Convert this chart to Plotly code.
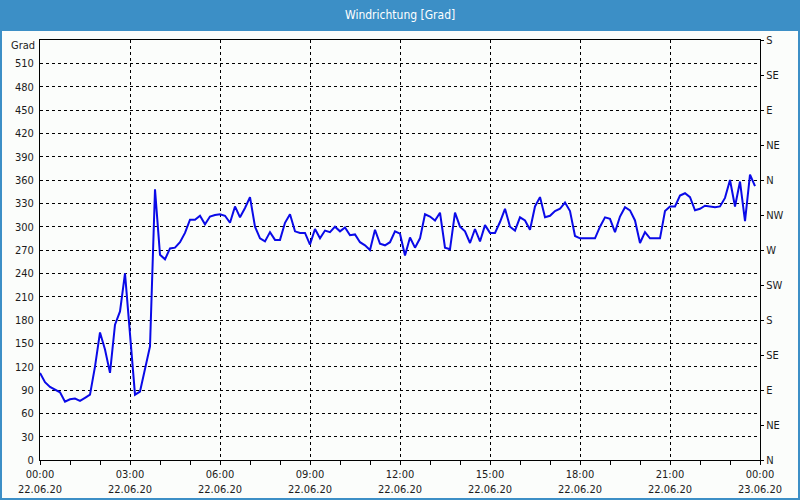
import pandas as pd
import plotly.graph_objects as go

# Wind direction in degrees, sampled every 10 minutes on 22.06.20
wind_deg = [
    112, 100, 94, 90, 87, 75, 78, 79, 76, 80, 84, 120,
    164, 142, 112, 174, 191, 240, 167, 84, 88, 115, 146, 348,
    264, 258, 272, 273, 280, 292, 309, 309, 314, 303, 313, 315,
    316, 314, 305, 326, 312, 324, 338, 300, 285, 281, 293, 283,
    283, 305, 316, 294, 292, 292, 277, 297, 285, 295, 293, 300,
    294, 299, 289, 290, 280, 276, 270, 296, 278, 276, 280, 294,
    291, 263, 286, 273, 285, 316, 313, 308, 318, 273, 271, 318,
    300, 294, 279, 297, 281, 302, 292, 292, 306, 323, 300, 295,
    312, 308, 296, 326, 338, 312, 314, 320, 323, 331, 320, 288,
    285, 285, 285, 285, 300, 312, 310, 293, 313, 325, 321, 308,
    279, 293, 285, 285, 285, 320, 326, 326, 340, 343, 338, 321,
    323, 327, 326, 325, 326, 337, 360, 326, 358, 307, 367, 352,
]
times = pd.date_range("2020-06-22 00:00", periods=len(wind_deg), freq="10min")

left_ticks = list(range(0, 511, 30))
right_ticks = list(range(0, 541, 45))
right_labels = ["N", "NE", "E", "SE", "S", "SW", "W", "NW", "N", "NE", "E", "SE", "S"]

title_text = "Windrichtung [Grad]"
unit_text = "Grad"

W, H = 800, 500
ML, MR, MT, MB = 40, 40, 40, 40
PW, PH = W - ML - MR, H - MT - MB

def px_x(x):
    return (x - ML) / PW

def px_y(y):
    return 1 - (y - MT) / PH

font_family = "Tahoma, 'DejaVu Sans Condensed', 'Liberation Sans', Arial, sans-serif"
txt = "#1c1c1c"

fig = go.Figure()
fig.add_trace(go.Scatter(
    x=times, y=wind_deg, mode="lines",
    line=dict(color="#0a0ae8", width=2),
    hoverinfo="skip", showlegend=False,
))
fig.add_trace(go.Scatter(
    x=[times[0]], y=[None], yaxis="y2", mode="lines",
    hoverinfo="skip", showlegend=False,
))

grid = dict(showgrid=True, gridcolor="#000000", gridwidth=1, griddash="3px,3px")

fig.update_layout(
    width=W, height=H,
    margin=dict(l=ML, r=MR, t=MT, b=MB, autoexpand=False),
    paper_bgcolor="#fbfdfb", plot_bgcolor="#fbfdfb",
    font=dict(family=font_family, size=11, color=txt),
    xaxis=dict(
        type="date", automargin=False,
        range=["2020-06-22 00:00", "2020-06-23 00:00"],
        dtick=3 * 3600 * 1000,
        tick0="2020-06-22 00:00",
        tickformat="%H:%M<br>%d.%m.%y",
        ticks="outside", ticklen=4, tickcolor="#000",
        minor=dict(dtick=3600 * 1000, ticks="outside", ticklen=4, tickcolor="#000", showgrid=False),
        showline=True, linecolor="#000", linewidth=1, mirror=True,
        zeroline=False, fixedrange=True,
        **grid,
    ),
    yaxis=dict(
        range=[0, 540], automargin=False,
        tickvals=left_ticks,
        ticks="", ticklabelstandoff=3,
        showline=True, linecolor="#000", linewidth=1, mirror=True,
        zeroline=False, fixedrange=True,
        **grid,
    ),
    yaxis2=dict(
        range=[0, 540], overlaying="y", side="right", automargin=False,
        tickvals=right_ticks, ticktext=right_labels,
        ticks="outside", ticklen=3, tickcolor="#000",
        showline=True, linecolor="#000", linewidth=1,
        showgrid=False, zeroline=False, fixedrange=True,
    ),
    shapes=[
        dict(type="rect", xref="paper", yref="paper",
             x0=px_x(0), x1=px_x(W), y0=px_y(31), y1=px_y(0),
             fillcolor="#3c8fc6", line=dict(width=0), layer="above"),
        dict(type="rect", xref="paper", yref="paper",
             x0=px_x(1), x1=px_x(W - 1), y0=px_y(H - 1), y1=px_y(30),
             fillcolor="rgba(0,0,0,0)", line=dict(color="#3c8fc6", width=2), layer="above"),
    ],
    annotations=[
        dict(text=title_text, xref="paper", yref="paper", x=0.5, y=px_y(15.5),
             xanchor="center", yanchor="middle", showarrow=False,
             font=dict(family=font_family, size=12, color="#ffffff")),
        dict(text=unit_text, xref="paper", yref="paper", x=px_x(37), y=px_y(46),
             xanchor="right", yanchor="middle", showarrow=False,
             font=dict(family=font_family, size=11, color=txt)),
    ],
)

fig.write_html(
    "out.html",
    config={"displayModeBar": False},
    post_script="document.body.style.margin='0';document.body.style.overflow='hidden';",
)
